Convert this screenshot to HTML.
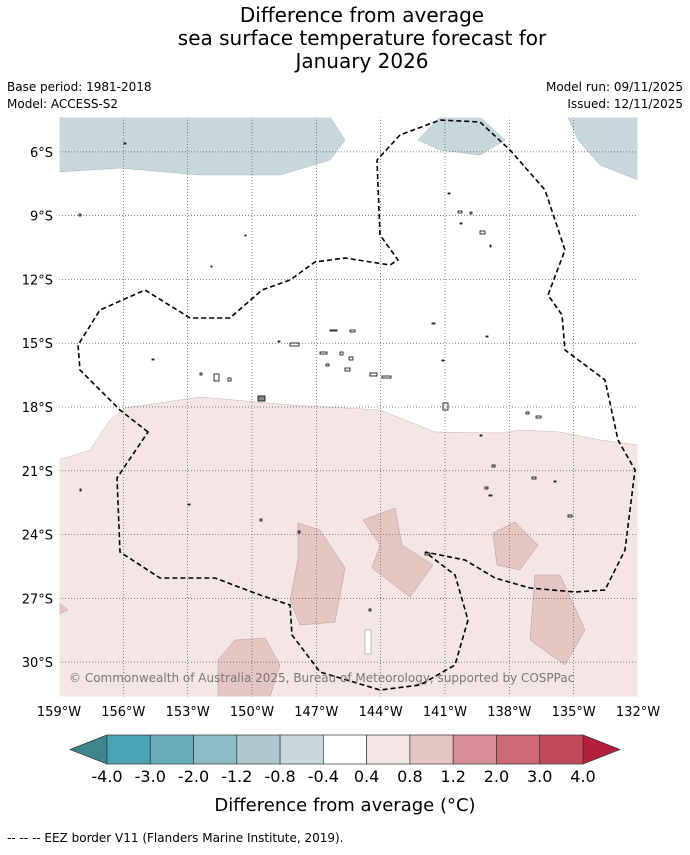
<!DOCTYPE html>
<html><head><meta charset="utf-8"><style>
body{margin:0;background:#fff;font-family:"Liberation Sans",sans-serif;}
svg text{font-family:"DejaVu Sans","Liberation Sans",sans-serif;}
</style></head><body>
<svg id="chart" width="690" height="850" viewBox="0 0 690 850" xmlns="http://www.w3.org/2000/svg">
<rect width="690" height="850" fill="#fff"/>
<g font-size="20" text-anchor="middle" fill="#000">
<text x="362" y="22">Difference from average</text>
<text x="362" y="45">sea surface temperature forecast for</text>
<text x="362" y="68">January 2026</text>
</g>
<g font-size="12" fill="#000">
<text x="7" y="91">Base period: 1981-2018</text>
<text x="7" y="108">Model: ACCESS-S2</text>
<text x="683" y="91" text-anchor="end">Model run: 09/11/2025</text>
<text x="683" y="108" text-anchor="end">Issued: 12/11/2025</text>
</g>
<g id="map">
<clipPath id="mc"><rect x="59" y="117" width="579" height="580"/></clipPath>
<g clip-path="url(#mc)">
<path fill="#f3e6e5" stroke="#c9b3b2" stroke-width="0.5" d="M59,460 L90,450 L110,420 L125,408 L200,397 L290,405 L380,410 L435,432 L500,433 L520,430 L560,432 L600,440 L638,445 L638,697 L59,697 Z"/>
<g fill="#e6c6c3" stroke="#b89794" stroke-width="0.5">
<path d="M298,523 L320,530 L345,568 L335,622 L300,625 L290,600 L298,560 Z"/>
<path d="M363,520 L395,508 L402,545 L433,565 L410,597 L372,568 L380,545 Z"/>
<path d="M493,533 L515,522 L538,545 L520,570 L497,565 Z"/>
<path d="M535,575 L560,575 L585,630 L565,665 L530,640 Z"/>
<path d="M218,660 L235,640 L265,638 L280,665 L270,697 L218,697 Z"/>
<path d="M59,603 L68,610 L59,614 Z"/>
</g>
<g fill="#c6d8dc" stroke="#9fb5ba" stroke-width="0.5">
<path d="M59,117 L330,117 L345,140 L330,160 L280,175 L200,175 L120,168 L59,172 Z"/>
<path d="M440,117 L480,117 L505,140 L480,155 L440,150 L418,140 Z"/>
<path d="M568,117 L638,117 L638,180 L600,165 L578,140 Z"/>
</g>
<g id="grid" stroke="#555" stroke-width="0.7" stroke-dasharray="1,2"></g>
<path fill="none" stroke="#000" stroke-width="1.6" stroke-dasharray="5,3" d="M148,432 L120,410 L80,370 L78,345 L100,310 L145,290 L190,318 L230,318 L262,290 L290,280 L315,262 L345,258 L390,265 L398,260 L380,235 L377,160 L400,135 L440,120 L480,122 L510,150 L545,190 L565,250 L548,295 L562,315 L565,350 L605,380 L618,440 L635,470 L625,550 L605,590 L575,592 L530,588 L495,578 L465,560 L425,552 L455,575 L468,620 L455,665 L420,685 L380,690 L320,672 L292,635 L290,605 L260,595 L215,578 L160,578 L120,552 L117,478 Z"/>
<g fill="none" stroke="#000" stroke-width="0.8" transform="translate(0,0)">
<rect x="124" y="143" width="2" height="1"/><rect x="79" y="214" width="2" height="2"/><rect x="245" y="235" width="1" height="1"/><rect x="211" y="266" width="1" height="1"/>
<rect x="448" y="193" width="2" height="1"/><rect x="458" y="211" width="4" height="2"/><rect x="470" y="212" width="2" height="2"/><rect x="460" y="223" width="2" height="1"/><rect x="480" y="231" width="5" height="3"/><rect x="490" y="245" width="1" height="2"/>
<rect x="330" y="330" width="7" height="1"/><rect x="350" y="330" width="5" height="2"/><rect x="432" y="323" width="3" height="1"/><rect x="278" y="341" width="2" height="1"/><rect x="290" y="343" width="9" height="3"/><rect x="320" y="352" width="7" height="2"/><rect x="340" y="352" width="3" height="3"/><rect x="349" y="357" width="4" height="3"/><rect x="326" y="364" width="3" height="2"/><rect x="345" y="368" width="5" height="3"/><rect x="370" y="373" width="7" height="3"/><rect x="382" y="376" width="9" height="2"/><rect x="200" y="373" width="2" height="2"/><rect x="214" y="374" width="5" height="7"/><rect x="228" y="378" width="3" height="3"/><rect x="258" y="396" width="7" height="5" fill="#888"/><rect x="442" y="360" width="2" height="1"/><rect x="486" y="336" width="2" height="1"/><rect x="152" y="359" width="2" height="1"/><rect x="443" y="403" width="5" height="7"/><rect x="526" y="412" width="3" height="2"/><rect x="536" y="416" width="5" height="2"/><rect x="480" y="435" width="2" height="1"/><rect x="492" y="465" width="3" height="2"/><rect x="485" y="487" width="3" height="2"/><rect x="489" y="495" width="3" height="1"/><rect x="532" y="477" width="4" height="2"/><rect x="554" y="481" width="2" height="1"/><rect x="568" y="515" width="4" height="2"/><rect x="80" y="489" width="1" height="2"/><rect x="188" y="504" width="2" height="1"/><rect x="260" y="519" width="2" height="2"/><rect x="369" y="609" width="2" height="2"/><rect x="425" y="553" width="5" height="2"/><rect x="298" y="531" width="2" height="2"/>
</g>
<rect x="365" y="630" width="6" height="24" fill="#fff" stroke="#888" stroke-width="0.5"/>
</g>
<rect x="59" y="117" width="579" height="580" fill="none" stroke="#fff"/>
<text x="69" y="682" font-size="12" fill="#777">© Commonwealth of Australia 2025, Bureau of Meteorology, supported by COSPPac</text>
<g id="xlabels" font-size="13" text-anchor="middle"></g>
<g id="ylabels" font-size="13" text-anchor="end"></g>
</g>
<g id="cbar"></g>
<text x="345" y="811" font-size="18" text-anchor="middle">Difference from average (°C)</text>
<text x="7" y="842" font-size="12">--  --  -- EEZ border V11 (Flanders Marine Institute, 2019).</text>
</svg>
<script>
const lonTicks=[159,156,153,150,147,144,141,138,135,132];
const latTicks=[6,9,12,15,18,21,24,27,30];
const cbLevels=["-4.0","-3.0","-2.0","-1.2","-0.8","-0.4","0.4","0.8","1.2","2.0","3.0","4.0"];
const cbColors=["#4aa4b4","#6aaebb","#8dbbc6","#aec8ce","#c6d8dc","#ffffff","#f3e6e5","#e7c6c2","#d88f96","#cd6a75","#c2495a"];
const NS="http://www.w3.org/2000/svg";
const xS=lon=>59+(159-lon)*(579/27);
const yS=lat=>117+(lat-4.36)*(580/27.28);
function mk(t,a,p){const e=document.createElementNS(NS,t);for(const k in a)e.setAttribute(k,a[k]);p.appendChild(e);return e;}
const grid=document.getElementById('grid'),xl=document.getElementById('xlabels'),yl=document.getElementById('ylabels');
lonTicks.forEach(l=>{const x=xS(l);
 const g=mk('line',{x1:x,x2:x,y1:117,y2:697},grid);
 
 
 const t=mk('text',{x:x,y:716},xl);t.textContent=l+'°W';
 
 });
latTicks.forEach(l=>{const y=yS(l);
 const g=mk('line',{x1:59,x2:638,y1:y,y2:y},grid);
 
 
 const t=mk('text',{x:53,y:y+5},yl);t.textContent=l+'°S';
 
 });
const cb=document.getElementById('cbar');
const x0=107,x1=583,y0=735,y1=764,w=(x1-x0)/cbColors.length;
const lt=mk('path',{d:`M${x0},${y0} L70,${(y0+y1)/2} L${x0},${y1} Z`,fill:'#3e858f',stroke:'#333','stroke-width':0.7},cb);


const rt=mk('path',{d:`M${x1},${y0} L620,${(y0+y1)/2} L${x1},${y1} Z`,fill:'#b31e3d',stroke:'#333','stroke-width':0.7},cb);


cbColors.forEach((c,i)=>{const r=mk('rect',{x:x0+i*w,y:y0,width:w,height:y1-y0,fill:c,stroke:'#333','stroke-width':0.7},cb);
 
 });
cbLevels.forEach((s,i)=>{const t=mk('text',{x:x0+i*w,y:782,'font-size':16,'text-anchor':'middle'},cb);t.textContent=s;
 
 });
</script>
</body></html>
